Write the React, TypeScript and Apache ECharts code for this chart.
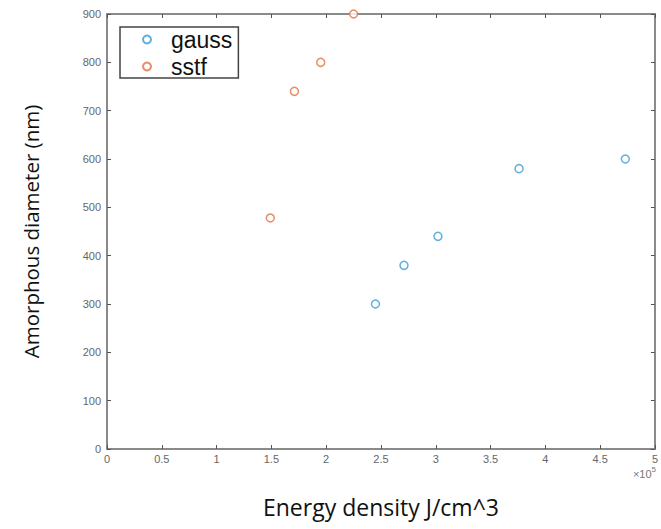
import React, { useEffect, useRef } from "react";
import * as echarts from "echarts";

// x values in units of 1e5 J/cm^3
const gaussX = [2.45, 2.71, 3.02, 3.76, 4.73];
const gaussY = [300, 380, 440, 580, 600];
const sstfX = [1.49, 1.71, 1.95, 2.25];
const sstfY = [478, 740, 800, 900];
const xTicks = [0, 0.5, 1, 1.5, 2, 2.5, 3, 3.5, 4, 4.5, 5];
const yTicks = [0, 100, 200, 300, 400, 500, 600, 700, 800, 900];

const BLUE = "#3d9ad6";
const ORANGE = "#e2703f";

export default function App() {
  const ref = useRef<HTMLDivElement>(null);
  useEffect(() => {
    document.body.style.margin = "0";
    const chart = echarts.init(ref.current!, null, { renderer: "svg" });
    const axisLine = { show: true, onZero: false, lineStyle: { color: "#8a8a8a", width: 2 } };
    const tick = { show: true, inside: true, length: 4, lineStyle: { color: "#555", width: 1 } };
    const label = { color: "#666", fontSize: 11, fontFamily: "Liberation Sans" };
    chart.setOption({
      animation: false,
      backgroundColor: "#fff",
      grid: { left: 107, right: 3, top: 14, bottom: 80 },
      xAxis: [
        {
          type: "value",
          min: 0,
          max: 5,
          interval: 0.5,
          axisLine,
          axisTick: tick,
          splitLine: { show: false },
          axisLabel: { ...label, margin: 4, formatter: (v: number) => (xTicks.includes(v) ? String(v) : "") },
          name: "Energy density J/cm^3",
          nameLocation: "middle",
          nameGap: 46,
          nameTextStyle: { color: "#111", fontSize: 23, fontFamily: "Open Sans" },
        },
        {
          type: "value",
          position: "top",
          min: 0,
          max: 5,
          interval: 0.5,
          axisLine,
          axisTick: tick,
          axisLabel: { show: false },
          splitLine: { show: false },
        },
      ],
      yAxis: [
        {
          type: "value",
          min: 0,
          max: 900,
          interval: 100,
          axisLine,
          axisTick: tick,
          splitLine: { show: false },
          axisLabel: { ...label, margin: 6, formatter: (v: number) => (yTicks.includes(v) ? String(v) : "") },
          name: "Amorphous diameter (nm)",
          nameLocation: "middle",
          nameGap: 66,
          nameTextStyle: { color: "#111", fontSize: 20.5, fontFamily: "Open Sans" },
        },
        {
          type: "value",
          position: "right",
          min: 0,
          max: 900,
          interval: 100,
          axisLine,
          axisTick: tick,
          axisLabel: { show: false },
          splitLine: { show: false },
        },
      ],
      legend: {
        left: 120,
        top: 27,
        orient: "vertical",
        backgroundColor: "#fff",
        borderColor: "#444",
        borderWidth: 1.5,
        borderRadius: 0,
        padding: [1, 6, 0, 22],
        itemGap: 4,
        itemWidth: 8,
        itemHeight: 8,
        textStyle: { color: "#111", fontSize: 23, lineHeight: 23, fontFamily: "Liberation Sans", padding: [0, 0, 0, 15] },
        data: ["gauss", "sstf"],
      },
      series: [
        {
          name: "gauss",
          type: "scatter",
          symbol: "circle",
          symbolSize: 8,
          itemStyle: { color: "#fff", borderColor: BLUE, borderWidth: 1.5 },
          data: gaussX.map((x, i) => [x, gaussY[i]]),
        },
        {
          name: "sstf",
          type: "scatter",
          symbol: "circle",
          symbolSize: 8,
          itemStyle: { color: "#fff", borderColor: ORANGE, borderWidth: 1.5 },
          data: sstfX.map((x, i) => [x, sstfY[i]]),
        },
      ],
      graphic: [
        {
          type: "text",
          right: 5,
          top: 465,
          style: {
            text: "{a|×10}{b|5}",
            rich: {
              a: { fontSize: 11, fill: "#777", fontFamily: "Liberation Sans", verticalAlign: "bottom" },
              b: { fontSize: 8, fill: "#777", fontFamily: "Liberation Sans", verticalAlign: "top", padding: [0, 0, 6, 0] },
            },
          },
        },
      ],
    });
    return () => chart.dispose();
  }, []);
  return <div ref={ref} style={{ width: 661, height: 529 }} />;
}
